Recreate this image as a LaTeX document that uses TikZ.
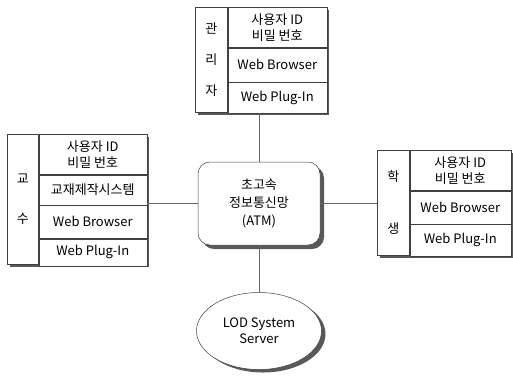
\documentclass[tikz,border=0pt]{standalone}
\usepackage{fontspec}
\setmainfont{Noto Sans CJK KR}
\usetikzlibrary{positioning,shapes.geometric,shadows}
\tikzset{
    cell/.style={
        rectangle,
        draw=black!75, line width=0.5pt,
        fill=white,
        inner sep=0pt,
        align=center,
        font={\fontsize{13pt}{16pt}\selectfont}
    },
    frame/.style={
        rectangle,
        draw=black!75, line width=0.5pt,
        fill=white,
        inner sep=0pt,
        drop shadow={shadow xshift=3pt, shadow yshift=-3pt, fill=black!65, opacity=1}
    },
    network/.style={
        rectangle,
        rounded corners=12pt,
        draw=black!75, line width=0.5pt,
        fill=white,
        align=center,
        minimum width=122pt, minimum height=83pt,
        font={\fontsize{13pt}{18pt}\selectfont},
        drop shadow={shadow xshift=4pt, shadow yshift=-4pt, fill=black!65, opacity=1}
    },
    server/.style={
        ellipse,
        draw=black!75, line width=0.5pt,
        fill=white,
        align=center,
        minimum width=125pt, minimum height=77pt,
        font={\fontsize{13pt}{16pt}\selectfont},
        drop shadow={shadow xshift=4pt, shadow yshift=-3pt, fill=black!65, opacity=1}
    },
    link/.style={draw=black!60, line width=0.5pt},
}
\begin{document}
\begin{tikzpicture}[x=1pt, y=-1pt]
\useasboundingbox (0,0) rectangle (513,376);
% 관리자
\node[frame, anchor=north west, minimum width=131pt, minimum height=105pt] (admin) at (195,7) {};
\node[cell, anchor=north west, minimum width=32pt, minimum height=105pt] (adminname) at (admin.north west) {관\\[15pt]리\\[15pt]자};
\node[cell, anchor=north west, minimum width=99pt, minimum height=40pt] (adminid) at (adminname.north east) {사용자 ID\\비밀 번호};
\node[cell, below=0pt of adminid, minimum width=99pt, minimum height=34pt] (adminweb) {Web Browser};
\node[cell, below=0pt of adminweb, minimum width=99pt, minimum height=31pt] (adminplug) {Web Plug-In};
% 교수
\node[frame, anchor=north west, minimum width=139pt, minimum height=130pt] (prof) at (7,134) {};
\node[cell, anchor=north west, minimum width=31pt, minimum height=130pt] (profname) at (prof.north west) {교\\[24pt]수};
\node[cell, anchor=north west, minimum width=108pt, minimum height=40pt] (profid) at (profname.north east) {사용자 ID\\비밀 번호};
\node[cell, below=0pt of profid, minimum width=108pt, minimum height=30pt] (proftool) {교재제작시스템};
\node[cell, below=0pt of proftool, minimum width=108pt, minimum height=33pt] (profweb) {Web Browser};
\node[cell, below=0pt of profweb, minimum width=108pt, minimum height=27pt] (profplug) {Web Plug-In};
% 학생
\node[frame, anchor=north west, minimum width=133pt, minimum height=105pt] (stud) at (377,150) {};
\node[cell, anchor=north west, minimum width=32pt, minimum height=105pt] (studname) at (stud.north west) {학\\[36pt]생};
\node[cell, anchor=north west, minimum width=101pt, minimum height=40pt] (studid) at (studname.north east) {사용자 ID\\비밀 번호};
\node[cell, below=0pt of studid, minimum width=101pt, minimum height=33pt] (studweb) {Web Browser};
\node[cell, below=0pt of studweb, minimum width=101pt, minimum height=32pt] (studplug) {Web Plug-In};
% 통신망, 서버
\node[network] (atm) at (259,203.5) {초고속\\정보통신망\\(ATM)};
\node[server] (lod) at (259,331) {LOD System\\Server};
\draw[link] (atm.north |- admin.south) -- (atm.north);
\draw[link] (atm.west) -- (atm.west -| prof.east);
\draw[link] (atm.east) -- (atm.east -| stud.west);
\draw[link] (atm.south) -- (lod.north);
\end{tikzpicture}
\end{document}
